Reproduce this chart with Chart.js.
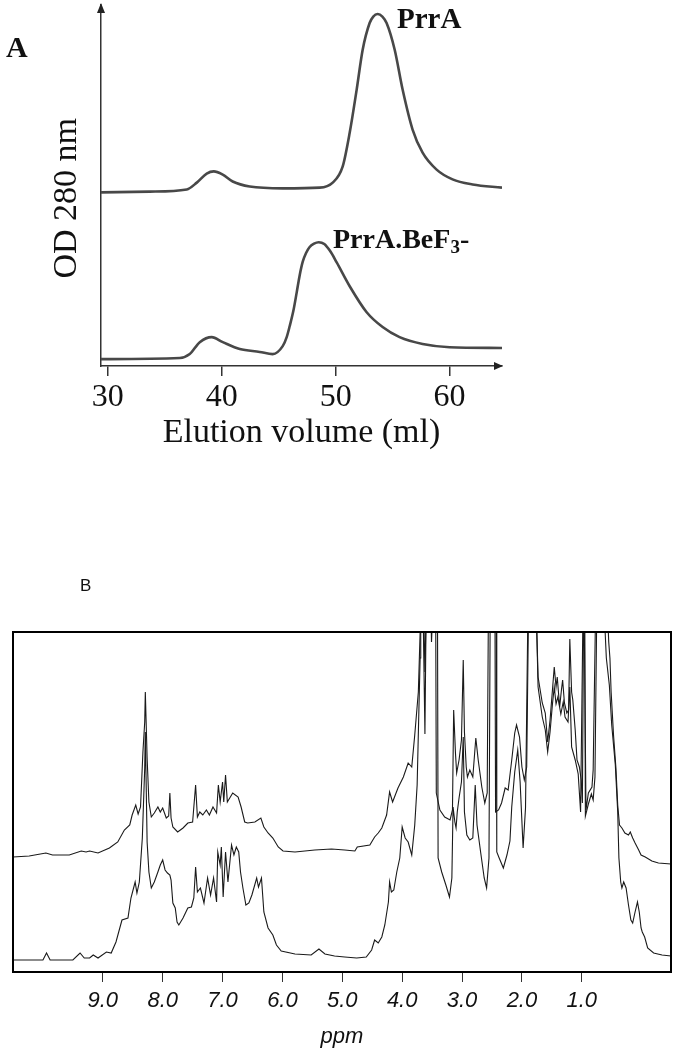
<!DOCTYPE html>
<html>
<head>
<meta charset="utf-8">
<script src="https://cdn.jsdelivr.net/npm/chart.js@4.4.1/dist/chart.umd.min.js"></script>
<style>
  html, body { margin: 0; padding: 0; background: #fff; }
  body { width: 677px; height: 1055px; position: relative; overflow: hidden; }
  .wrap { position: absolute; left: 0; }
  .lbl { position: absolute; line-height: 1; white-space: nowrap; color: #111; }
  .serif { font-family: 'Liberation Serif', 'Times New Roman', serif; font-weight: bold; }
</style>
</head>
<body>
<div class="wrap" style="top:0"><canvas id="elutionChart" width="677" height="460"></canvas></div>
<div class="wrap" style="top:560px"><canvas id="nmrChart" width="677" height="495"></canvas></div>
<div class="lbl serif" style="left:6px; top:32px; font-size:30px">A</div>
<div class="lbl serif" style="left:397px; top:4px; font-size:29px">PrrA</div>
<div class="lbl serif" style="left:333px; top:225px; font-size:28px">PrrA.BeF<span style="font-size:19px; position:relative; top:5px">3</span>-</div>
<div class="lbl" style="left:80px; top:577px; font-size:17px; font-family:'Liberation Sans', Arial, sans-serif">B</div>

<script>
// panel A: gel filtration profiles
const elutionTicks = [30, 40, 50, 60];

const prrAVolume = [29.4, 33.68, 36.93, 37.81, 38.68, 39.30, 40.09, 40.96, 42.46, 45.35, 48.60, 49.74, 50.61, 51.23, 51.84, 52.37, 52.98, 53.30, 53.68, 54.10, 54.47, 55.18, 55.88, 56.75, 57.63, 58.86, 60.26, 62.02, 64.6];
const prrAOd = [48.1, 48.3, 48.9, 50.8, 53.3, 53.9, 53.0, 51.1, 49.7, 49.2, 49.4, 50.8, 55.2, 64.6, 76.5, 87.6, 95.0, 96.8, 97.5, 96.8, 95.0, 87.6, 76.5, 65.5, 59.1, 54.4, 51.7, 50.3, 49.4];

const befVolume = [29.4, 36.32, 37.19, 38.07, 39.12, 40.09, 41.58, 43.33, 44.47, 45.35, 45.70, 45.96, 46.30, 46.58, 46.85, 47.11, 47.40, 47.70, 48.10, 48.51, 49.00, 49.50, 50.09, 51.23, 52.72, 54.12, 55.61, 57.63, 60.00, 64.6];
const befOd = [1.9, 2.2, 3.3, 6.6, 8.0, 6.6, 4.7, 3.9, 3.3, 5.5, 8.0, 11.0, 15.5, 20.4, 25.3, 28.9, 31.3, 32.9, 33.9, 34.3, 33.8, 31.9, 28.7, 22.1, 14.9, 10.8, 8.0, 6.1, 5.2, 5.0];

// panel B: 1H NMR spectra (intensity above the frame bottom, arbitrary)
const ppmTicks = [9, 8, 7, 6, 5, 4, 3, 2, 1];

const upperPpm = [10.5, 10.23, 9.95, 9.84, 9.56, 9.36, 9.28, 9.22, 9.08, 8.89, 8.75, 8.64, 8.55, 8.51, 8.45, 8.41, 8.37, 8.33, 8.30, 8.29, 8.26, 8.23, 8.19, 8.14, 8.08, 8.04, 8.00, 7.94, 7.90, 7.88, 7.86, 7.83, 7.75, 7.66, 7.58, 7.50, 7.45, 7.42, 7.38, 7.33, 7.27, 7.22, 7.16, 7.10, 7.07, 7.04, 7.00, 6.98, 6.95, 6.92, 6.88, 6.83, 6.74, 6.69, 6.63, 6.58, 6.46, 6.36, 6.31, 6.24, 6.16, 6.07, 5.99, 5.79, 5.46, 5.18, 4.96, 4.79, 4.75, 4.54, 4.46, 4.40, 4.34, 4.26, 4.21, 4.16, 4.07, 3.98, 3.90, 3.84, 3.79, 3.73, 3.69, 3.65, 3.62, 3.60, 3.52, 3.51, 3.49, 3.44, 3.43, 3.37, 3.29, 3.20, 3.16, 3.14, 3.11, 3.09, 3.05, 3.01, 2.98, 2.96, 2.93, 2.91, 2.87, 2.82, 2.77, 2.73, 2.67, 2.62, 2.58, 2.56, 2.45, 2.44, 2.39, 2.34, 2.28, 2.23, 2.17, 2.12, 2.09, 2.04, 2.00, 1.96, 1.92, 1.89, 1.76, 1.73, 1.66, 1.61, 1.57, 1.53, 1.49, 1.46, 1.43, 1.41, 1.37, 1.34, 1.32, 1.29, 1.25, 1.22, 1.20, 1.17, 1.15, 1.11, 1.08, 1.04, 1.01, 0.99, 0.97, 0.96, 0.93, 0.89, 0.83, 0.81, 0.77, 0.57, 0.55, 0.53, 0.51, 0.47, 0.43, 0.40, 0.37, 0.33, 0.28, 0.22, 0.19, 0.15, 0.11, 0.05, 0.01, -0.06, -0.17, -0.28, -0.49];
const upperInt = [115, 116, 119, 117, 117, 121, 120, 121, 119, 124, 130, 142, 147, 157, 167, 158, 165, 220, 250, 280, 214, 170, 155, 159, 165, 160, 164, 154, 156, 179, 154, 145, 140, 144, 149, 150, 187, 155, 160, 157, 162, 157, 165, 159, 187, 170, 190, 170, 197, 170, 174, 179, 175, 165, 150, 149, 150, 154, 145, 139, 134, 125, 121, 120, 122, 123, 122, 121, 125, 127, 135, 139, 144, 157, 180, 170, 184, 195, 209, 205, 237, 280, 360, 360, 238, 360, 360, 330, 360, 360, 179, 162, 155, 152, 162, 262, 219, 199, 212, 232, 312, 240, 205, 195, 202, 195, 234, 212, 185, 169, 179, 360, 360, 160, 162, 169, 184, 182, 212, 239, 247, 235, 205, 192, 205, 360, 360, 295, 269, 259, 230, 252, 282, 305, 285, 295, 265, 282, 292, 269, 259, 262, 333, 280, 272, 242, 212, 205, 192, 169, 360, 360, 162, 179, 185, 202, 360, 360, 330, 314, 280, 237, 204, 167, 147, 144, 139, 137, 140, 134, 129, 122, 117, 115, 111, 109, 108];

const lowerPpm = [10.5, 10.00, 9.94, 9.88, 9.50, 9.38, 9.31, 9.22, 9.16, 9.08, 8.94, 8.86, 8.78, 8.68, 8.58, 8.53, 8.46, 8.43, 8.39, 8.34, 8.30, 8.29, 8.26, 8.23, 8.19, 8.14, 8.08, 8.04, 8.00, 7.96, 7.92, 7.88, 7.86, 7.83, 7.79, 7.76, 7.73, 7.66, 7.58, 7.52, 7.48, 7.45, 7.42, 7.37, 7.31, 7.25, 7.20, 7.15, 7.10, 7.08, 7.04, 7.02, 6.99, 6.95, 6.91, 6.85, 6.81, 6.77, 6.73, 6.70, 6.66, 6.61, 6.56, 6.51, 6.43, 6.40, 6.35, 6.31, 6.24, 6.16, 6.10, 6.02, 5.79, 5.52, 5.39, 5.29, 5.13, 4.96, 4.76, 4.60, 4.51, 4.46, 4.40, 4.34, 4.29, 4.23, 4.21, 4.18, 4.14, 4.09, 4.04, 4.00, 3.95, 3.90, 3.84, 3.79, 3.75, 3.72, 3.70, 3.69, 3.64, 3.62, 3.60, 3.41, 3.40, 3.34, 3.27, 3.21, 3.17, 3.15, 3.12, 3.10, 3.08, 3.05, 3.01, 2.98, 2.96, 2.92, 2.87, 2.82, 2.78, 2.75, 2.69, 2.63, 2.59, 2.55, 2.53, 2.43, 2.42, 2.38, 2.31, 2.25, 2.20, 2.17, 2.12, 2.07, 2.03, 1.98, 1.94, 1.90, 1.76, 1.73, 1.66, 1.61, 1.57, 1.53, 1.49, 1.46, 1.43, 1.40, 1.35, 1.31, 1.28, 1.23, 1.20, 1.17, 1.11, 1.06, 1.02, 0.98, 0.95, 0.94, 0.89, 0.84, 0.81, 0.78, 0.75, 0.62, 0.61, 0.59, 0.54, 0.50, 0.44, 0.40, 0.38, 0.35, 0.33, 0.30, 0.26, 0.22, 0.18, 0.15, 0.11, 0.07, 0.04, 0.01, -0.01, -0.05, -0.10, -0.20, -0.34, -0.49];
const lowerInt = [12, 12, 19, 12, 12, 19, 14, 14, 17, 14, 20, 19, 30, 52, 54, 74, 90, 79, 90, 134, 204, 240, 130, 100, 84, 90, 100, 107, 112, 102, 99, 97, 92, 69, 64, 50, 47, 54, 64, 65, 74, 105, 80, 84, 69, 94, 77, 94, 70, 120, 107, 125, 75, 120, 90, 127, 117, 125, 120, 100, 84, 67, 69, 77, 94, 85, 94, 60, 44, 37, 27, 21, 18, 17, 23, 18, 16, 15, 14, 15, 22, 32, 29, 35, 47, 70, 90, 80, 82, 100, 114, 145, 134, 130, 117, 147, 187, 264, 314, 360, 360, 300, 360, 360, 114, 100, 87, 75, 94, 165, 150, 144, 160, 174, 190, 235, 160, 137, 132, 134, 187, 147, 120, 94, 84, 114, 360, 360, 120, 114, 104, 117, 131, 165, 200, 222, 190, 124, 164, 360, 360, 285, 255, 242, 220, 240, 268, 285, 268, 275, 258, 270, 255, 250, 285, 225, 212, 198, 160, 360, 360, 156, 168, 178, 172, 195, 360, 360, 340, 314, 287, 247, 207, 160, 114, 90, 84, 90, 84, 67, 52, 49, 60, 70, 60, 44, 40, 35, 24, 19, 17, 16];

function toPoints(xs, ys) {
    return xs.map((x, i) => ({ x: x, y: ys[i] }));
}

const serif = "'Liberation Serif', 'Times New Roman', serif";
const sans = "'Liberation Sans', Arial, sans-serif";

const arrowPlugin = {
    id: 'axisArrows',
    afterDraw(chart) {
        const { ctx, chartArea: a } = chart;
        ctx.save();
        ctx.fillStyle = '#222';
        ctx.beginPath();
        ctx.moveTo(a.left, a.top - 2);
        ctx.lineTo(a.left - 4, a.top + 8);
        ctx.lineTo(a.left + 4, a.top + 8);
        ctx.closePath();
        ctx.fill();
        ctx.beginPath();
        ctx.moveTo(a.right + 1, a.bottom);
        ctx.lineTo(a.right - 8, a.bottom - 4);
        ctx.lineTo(a.right - 8, a.bottom + 4);
        ctx.closePath();
        ctx.fill();
        ctx.restore();
    }
};

const framePlugin = {
    id: 'frame',
    afterDraw(chart) {
        const { ctx, chartArea: a } = chart;
        ctx.save();
        ctx.strokeStyle = '#000';
        ctx.lineWidth = 2;
        ctx.strokeRect(a.left, a.top, a.right - a.left, a.bottom - a.top);
        ctx.restore();
    }
};

const elutionCtx = document.getElementById('elutionChart').getContext('2d');
new Chart(elutionCtx, {
    type: 'line',
    data: {
        datasets: [
            { label: 'PrrA', data: toPoints(prrAVolume, prrAOd) },
            { label: 'PrrA.BeF3-', data: toPoints(befVolume, befOd) }
        ].map(ds => Object.assign(ds, {
            borderColor: '#484848',
            borderWidth: 2.6,
            pointRadius: 0,
            fill: false,
            cubicInterpolationMode: 'monotone'
        }))
    },
    options: {
        responsive: false,
        animation: false,
        layout: { padding: { left: 47, top: 5, right: 175, bottom: 7 } },
        plugins: { legend: { display: false }, tooltip: { enabled: false } },
        scales: {
            x: {
                type: 'linear',
                min: 29.4,
                max: 64.6,
                afterBuildTicks: (axis) => { axis.ticks = elutionTicks.map(v => ({ value: v })); },
                afterFit: (axis) => { axis.height = 87; },
                ticks: {
                    autoSkip: false,
                    maxRotation: 0,
                    padding: 2,
                    color: '#111',
                    font: { family: serif, size: 32 },
                    callback: (v) => String(v)
                },
                grid: { drawOnChartArea: false, drawTicks: true, tickLength: 10, color: '#333', lineWidth: 1.5 },
                border: { display: true, color: '#333', width: 1.5 },
                title: {
                    display: true,
                    text: 'Elution volume (ml)',
                    color: '#111',
                    padding: 0,
                    font: { family: serif, size: 34 }
                }
            },
            y: {
                min: 0,
                max: 100,
                afterFit: (axis) => { axis.width = 54; },
                ticks: { display: false },
                grid: { display: false },
                border: { display: true, color: '#333', width: 1.5 },
                title: {
                    display: true,
                    text: 'OD 280 nm\u00a0\u00a0\u00a0',
                    color: '#111',
                    padding: 0,
                    font: { family: serif, size: 34 }
                }
            }
        }
    },
    plugins: [arrowPlugin]
});

const nmrCtx = document.getElementById('nmrChart').getContext('2d');
new Chart(nmrCtx, {
    type: 'line',
    data: {
        datasets: [
            { label: 'PrrA', data: toPoints(upperPpm, upperInt) },
            { label: 'PrrA.BeF3-', data: toPoints(lowerPpm, lowerInt) }
        ].map(ds => Object.assign(ds, {
            borderColor: '#1a1a1a',
            borderWidth: 1.1,
            pointRadius: 0,
            fill: false,
            tension: 0,
            clip: 0
        }))
    },
    options: {
        responsive: false,
        animation: false,
        layout: { padding: { left: 13, top: 72, right: 6, bottom: 5 } },
        plugins: { legend: { display: false }, tooltip: { enabled: false } },
        scales: {
            x: {
                type: 'linear',
                reverse: true,
                min: -0.49,
                max: 10.5,
                afterBuildTicks: (axis) => { axis.ticks = ppmTicks.map(v => ({ value: v })); },
                afterFit: (axis) => { axis.height = 78; },
                ticks: {
                    autoSkip: false,
                    maxRotation: 0,
                    padding: 6,
                    color: '#111',
                    font: { family: sans, size: 22, style: 'italic' },
                    callback: (v) => v.toFixed(1)
                },
                grid: { drawOnChartArea: false, drawTicks: true, tickLength: 10, color: '#333', lineWidth: 1 },
                border: { display: false },
                title: {
                    display: true,
                    text: 'ppm',
                    color: '#111',
                    padding: 0,
                    font: { family: sans, size: 22, style: 'italic' }
                }
            },
            y: {
                display: false,
                min: 0,
                max: 340
            }
        }
    },
    plugins: [framePlugin]
});
</script>
</body>
</html>
